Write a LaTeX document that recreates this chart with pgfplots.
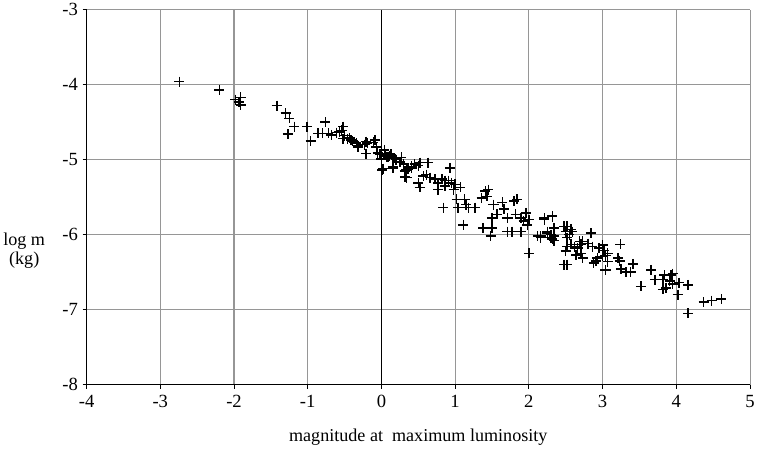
\documentclass[border=0pt]{standalone}
\usepackage{fontspec}
\setmainfont{Liberation Serif}
\usepackage{pgfplots}
\pgfplotsset{compat=1.18}
\definecolor{gridgray}{RGB}{150,150,150}
\begin{document}
\begin{tikzpicture}
\begin{axis}[
    scale only axis,
    width=660pt, height=373pt,
    xmin=-4, xmax=5, ymin=-8, ymax=-3,
    xtick={-4,...,5}, ytick={-8,...,-3},
    /pgf/number format/assume math mode=true,
    tick label style={font=\fontsize{18.5}{20}\selectfont},
    xticklabel style={yshift=-3pt},
    yticklabel style={xshift=-1pt},
    grid=major,
    grid style={gridgray, line width=1pt},
    axis x line=bottom, axis y line=left,
    axis line style={-, black, line width=1pt},
    tick style={black, line width=0.8pt},
    tick align=outside,
    major tick length=4pt,
    xlabel={magnitude at \ maximum luminosity},
    xlabel style={font=\fontsize{18}{20}\selectfont, yshift=-14pt},
    clip=false,
]
\addplot[black, line width=1pt] coordinates {(0,-8) (0,-3)};
\addplot[only marks, mark=+, mark size=5pt, black, mark options={line width=1.5pt}] coordinates {
(-2.74,-3.96) (-2.20,-4.07) (-1.98,-4.20) (-1.91,-4.17) (-1.91,-4.27) (-1.93,-4.23)
(-1.42,-4.28) (-1.30,-4.38) (-1.25,-4.45) (-1.18,-4.56) (-1.27,-4.66) (-1.01,-4.56)
(-0.96,-4.75) (-0.76,-4.50) (-0.86,-4.65) (-0.80,-4.65) (-0.72,-4.65) (-0.68,-4.67)
(-0.61,-4.64) (-0.52,-4.56) (-0.54,-4.61) (-0.50,-4.68) (-0.52,-4.72) (-0.43,-4.71)
(-0.39,-4.75) (-0.57,-4.63) (-0.46,-4.72) (-0.41,-4.74) (-0.34,-4.78) (-0.32,-4.83)
(-0.32,-4.82) (-0.23,-4.80) (-0.21,-4.92) (-0.19,-4.78) (-0.21,-4.76) (-0.11,-4.77)
(-0.09,-4.74) (-0.07,-4.84) (-0.07,-4.83) (-0.02,-4.93) (0.01,-5.14) (0.04,-4.87)
(0.11,-4.95) (0.16,-5.11) (0.17,-4.98) (0.00,-4.99) (0.00,-4.92) (0.02,-5.12)
(0.07,-4.96) (0.16,-4.98) (0.16,-5.09) (0.25,-5.03) (0.32,-5.23) (0.34,-5.14)
(0.41,-5.09) (-0.05,-4.91) (0.05,-4.94) (0.09,-4.97) (0.13,-4.93)
(0.20,-5.00) (0.27,-4.97) (0.30,-5.06) (0.36,-5.13) (0.41,-5.11) (0.45,-5.06)
(0.50,-5.08) (0.52,-5.04) (0.63,-5.04) (0.32,-5.15) (0.34,-5.24) (0.50,-5.31)
(0.52,-5.37) (0.57,-5.22) (0.61,-5.20) (0.66,-5.24) (0.73,-5.26) (0.77,-5.31)
(0.82,-5.26) (0.86,-5.28) (0.91,-5.28) (0.95,-5.31) (1.00,-5.33) (0.93,-5.11)
(0.77,-5.40) (0.86,-5.35) (0.98,-5.40) (1.07,-5.37) (0.84,-5.64) (1.02,-5.53)
(1.04,-5.64) (1.13,-5.53) (1.15,-5.60) (1.18,-5.64) (1.27,-5.64) (1.11,-5.87)
(1.36,-5.51) (1.41,-5.42) (1.45,-5.40) (1.43,-5.49) (1.38,-5.91) (1.50,-5.91)
(1.48,-6.02) (1.52,-5.60) (1.50,-5.78) (1.57,-5.73) (1.64,-5.57) (1.66,-5.66)
(1.71,-5.78) (1.80,-5.55) (1.84,-5.53) (1.82,-5.73) (1.89,-5.78) (1.93,-5.82)
(1.96,-5.71) (1.98,-5.87) (2.00,-5.80) (1.71,-5.96) (1.77,-5.96) (1.89,-5.96)
(2.00,-6.25) (2.21,-5.78) (2.32,-5.76) (2.16,-6.02) (2.25,-5.98) (2.34,-5.91)
(2.30,-6.04) (2.48,-5.89) (2.50,-5.96) (2.52,-6.16) (2.50,-6.22) (2.48,-6.40)
(2.21,-5.80) (2.32,-5.75) (2.12,-6.02) (2.16,-6.04) (2.25,-5.96) (2.30,-6.00)
(2.34,-6.02) (2.32,-6.06) (2.34,-6.08) (2.52,-5.89) (2.57,-5.93) (2.55,-6.00)
(2.52,-6.04) (2.59,-5.96) (2.52,-6.40) (2.57,-6.13) (2.62,-6.16) (2.69,-6.09)
(2.71,-6.13) (2.66,-6.18) (2.71,-6.25) (2.73,-6.31) (2.64,-6.27) (2.73,-6.09)
(2.80,-6.12) (2.84,-5.98) (2.86,-6.16) (2.88,-6.38) (2.91,-6.35) (2.95,-6.18)
(3.00,-6.14) (3.02,-6.21) (3.04,-6.28) (3.07,-6.25) (3.00,-6.29) (2.93,-6.31)
(3.04,-6.47) (3.07,-6.36) (3.24,-6.13) (3.21,-6.31) (3.23,-6.35) (3.25,-6.46)
(3.32,-6.50) (3.38,-6.50) (3.41,-6.39) (3.52,-6.69) (3.66,-6.47) (3.71,-6.60)
(3.82,-6.60) (3.84,-6.54) (3.86,-6.71) (3.82,-6.73) (3.93,-6.54) (3.95,-6.52)
(3.91,-6.62) (3.95,-6.66) (4.04,-6.64) (4.16,-6.67) (4.02,-6.80) (4.16,-7.05)
(4.37,-6.90) (4.48,-6.88) (4.61,-6.86)
};
\node[align=center, font=\fontsize{18}{19}\selectfont] at (rel axis cs:-0.094,0.357) {log m\\(kg)};
\end{axis}
\end{tikzpicture}
\end{document}
